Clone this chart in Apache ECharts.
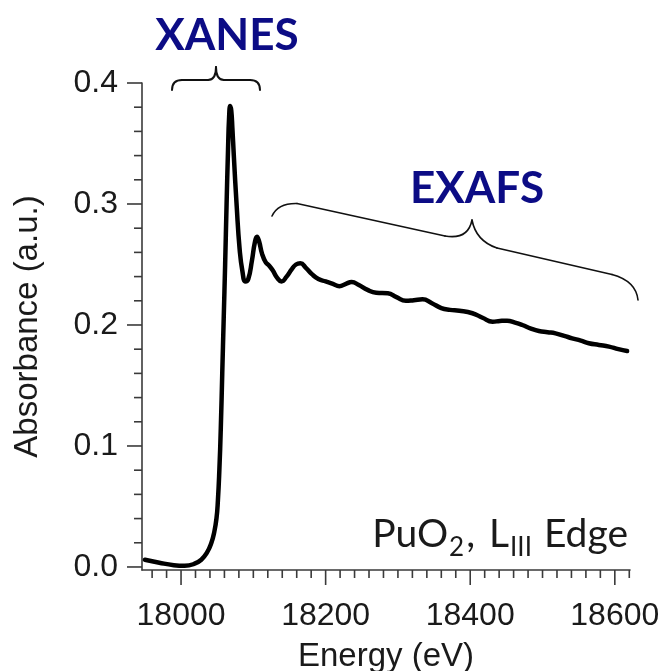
<!DOCTYPE html>
<html>
<head>
<meta charset="utf-8">
<script src="https://cdn.jsdelivr.net/npm/echarts@6/dist/echarts.min.js"></script>
<style>
html,body{margin:0;padding:0;background:#fff;}
#chart{width:662px;height:671px;}
</style>
</head>
<body>
<div id="chart"></div>
<script>
// ---- data ----
var energy = [17950,17970,17990,18005,18018,18028,18036,18042,18046,18049,18051,18053,18055,18057,18059,18061,18063,18065,18066.5,18068,18069.5,18071,18073,18077,18081,18085,18089,18093,18098,18102,18105,18108,18112,18117,18122,18127,18133,18139,18146,18153,18159,18165,18173,18181,18190,18200,18210,18219,18228,18236,18246,18258,18270,18286,18298,18311,18322,18334,18347,18360,18372,18385,18403,18417,18431,18441,18451,18462,18472,18484,18495,18507,18518,18530,18541,18553,18564,18578,18592,18605,18617];
var absorbance = [0.006,0.0035,0.0015,0.001,0.0025,0.006,0.012,0.020,0.029,0.040,0.055,0.080,0.115,0.160,0.205,0.250,0.300,0.345,0.372,0.381,0.377,0.363,0.340,0.298,0.263,0.244,0.236,0.238,0.253,0.268,0.273,0.269,0.259,0.252,0.249,0.245,0.239,0.236,0.240,0.246,0.250,0.251,0.247,0.242,0.238,0.236,0.234,0.232,0.234,0.2355,0.233,0.229,0.2267,0.2262,0.223,0.220,0.2205,0.2212,0.218,0.214,0.2125,0.2118,0.2097,0.206,0.2027,0.2033,0.2036,0.202,0.200,0.197,0.195,0.194,0.1931,0.191,0.189,0.187,0.1849,0.1835,0.1821,0.180,0.1785];
var xRange = [17946, 18621];
var yRange = [-0.0025, 0.4];
var xMajorRange = [18000, 18600];   // labelled ticks every 200 eV
var xMinorRange = [17960, 18620];   // minor ticks every 20 eV
var yMajorRange = [0, 0.4];         // labelled ticks every 0.1, minor every 0.02
var xTitle = 'Energy (eV)';
var yTitle = 'Absorbance (a.u.)';

var seriesData = energy.map(function (e, i) { return [e, absorbance[i]]; });

var axisColor = '#3a3a3a';
var labelFont = {fontFamily: 'Liberation Sans', fontSize: 32, color: '#1a1a1a'};
var navy = '#0c0c85';

// plot geometry (pixels)
var PL = 142, PR = 630, PT = 83, PB = 570;
var H = 671, W = 662;
var pxPerEV = (PR - PL) / (xRange[1] - xRange[0]);
var pxPerY = (PB - PT) / (yRange[1] - yRange[0]);
function xPix(e) { return PL + (e - xRange[0]) * pxPerEV; }
function yPix(v) { return PB - (v - yRange[0]) * pxPerY; }

// brace annotation segments: ['q', x1,y1, cx,cy, x2,y2] or ['l', x1,y1, x2,y2]
function braceElements(segs, width) {
  return segs.map(function (s) {
    if (s[0] === 'q') {
      return {type: 'bezierCurve', shape: {x1: s[1], y1: s[2], cpx1: s[3], cpy1: s[4], x2: s[5], y2: s[6]},
        style: {fill: null, stroke: '#111', lineWidth: width, lineCap: 'round'}};
    }
    return {type: 'line', shape: {x1: s[1], y1: s[2], x2: s[3], y2: s[4]},
      style: {stroke: '#111', lineWidth: width, lineCap: 'round'}};
  });
}
var xanesBrace = braceElements([
  ['q', 172,90, 172,80, 182,80], ['l', 182,80, 208,80], ['q', 208,80, 216,80, 216,67],
  ['q', 216,67, 216,80, 224,80], ['l', 224,80, 250,80], ['q', 250,80, 260,80, 260,90]
], 2);
var exafsBrace = braceElements([
  ['q', 272,216, 278,203, 297,203.5], ['l', 297,203.5, 445,236], ['q', 445,236, 468,240, 472,220],
  ['q', 472,220, 476,241, 497,248], ['l', 497,248, 612,274.5], ['q', 612,274.5, 636,281, 638,300]
], 1.6);

function mkGrid(l, r, t, b) {
  return {left: l, right: W - r, top: t, bottom: H - b, outerBoundsMode: 'none'};
}

var chart = echarts.init(document.getElementById('chart'), null, {renderer: 'canvas'});
var annotations = [
  {type: 'text', x: 227, y: 36, style: {text: 'XANES', fill: navy, font: 'bold 44px Lato', align: 'center', verticalAlign: 'middle'}},
  {type: 'text', x: 477, y: 189, style: {text: 'EXAFS', fill: navy, font: 'bold 44px Lato', align: 'center', verticalAlign: 'middle'}},
  {type: 'text', x: 628, y: 515, style: {
    text: '{a|PuO}{s|2}{a|,}{b|L}{s|III}{a| Edge}', align: 'right', verticalAlign: 'top',
    rich: {
      a: {fontFamily: 'Lato', fontSize: 39, verticalAlign: 'top', fill: '#1a1a1a'},
      b: {fontFamily: 'Lato', fontSize: 39, verticalAlign: 'top', fill: '#1a1a1a', padding: [0, 0, 0, 14]},
      s: {fontFamily: 'Lato', fontSize: 26, lineHeight: 46, verticalAlign: 'bottom', fill: '#1a1a1a', padding: [0, 2, 0, 1]}
    }
  }}
].concat(xanesBrace, exafsBrace);

chart.setOption({
  animation: false,
  backgroundColor: '#fff',
  grid: [
    mkGrid(PL, PR, PT, PB),                                        // 0 main plot
    mkGrid(xPix(xMajorRange[0]), xPix(xMajorRange[1]), PT, PB),    // 1 x labels
    mkGrid(PL, PR, yPix(yMajorRange[1]), yPix(yMajorRange[0]))     // 2 y labels
  ],
  xAxis: [{
    type: 'value', gridIndex: 0, min: xRange[0], max: xRange[1],
    splitLine: {show: false},
    axisLine: {show: true, onZero: false, lineStyle: {color: axisColor, width: 1.6}},
    axisTick: {show: false}, axisLabel: {show: false},
    name: xTitle, nameLocation: 'middle', nameGap: 70,
    nameTextStyle: {fontFamily: 'Liberation Sans', fontSize: 33, color: '#1a1a1a'}
  }, {
    type: 'value', gridIndex: 1, min: xMajorRange[0], max: xMajorRange[1], interval: 200,
    splitLine: {show: false}, axisLine: {show: false}, axisTick: {show: false},
    axisLabel: Object.assign({show: true, margin: 30, formatter: function (v) { return String(v); }}, labelFont)
  }, {type: 'value', gridIndex: 2, show: false}],
  yAxis: [{
    type: 'value', gridIndex: 0, min: yRange[0], max: yRange[1],
    splitLine: {show: false},
    axisLine: {show: true, onZero: false, lineStyle: {color: axisColor, width: 1.6}},
    axisTick: {show: false}, axisLabel: {show: false},
    name: yTitle, nameLocation: 'middle', nameGap: 98, nameRotate: 90,
    nameTextStyle: {fontFamily: 'Liberation Sans', fontSize: 33, color: '#1a1a1a'}
  }, {type: 'value', gridIndex: 1, show: false}, {
    type: 'value', gridIndex: 2, min: yMajorRange[0], max: yMajorRange[1], interval: 0.1,
    splitLine: {show: false}, axisLine: {show: false}, axisTick: {show: false},
    axisLabel: Object.assign({show: true, margin: 24, formatter: function (v) { return v.toFixed(1); }}, labelFont)
  }],
  series: [{
    type: 'line', xAxisIndex: 0, yAxisIndex: 0,
    data: seriesData,
    showSymbol: false, symbol: 'none',
    smooth: 0.5,
    lineStyle: {color: '#000', width: 4.5, cap: 'round', join: 'round'}
  }],
  graphic: annotations
});

// tick marks placed through the main axes' scales (major 200 eV / 0.1, minor 20 eV / 0.02)
function toPixel(v, isX) {
  var r = null;
  try {
    r = chart.convertToPixel(isX ? {xAxisIndex: 0} : {yAxisIndex: 0}, v);
    if (Array.isArray(r)) r = isX ? r[0] : r[1];
  } catch (err) { r = null; }
  if (typeof r !== 'number' || !isFinite(r)) r = isX ? xPix(v) : yPix(v);
  return r;
}
var ticks = [];
function addTick(v, isX, len) {
  if (isX) {
    var x = toPixel(v, true);
    ticks.push({type: 'line', shape: {x1: x, y1: PB, x2: x, y2: PB + len}, style: {stroke: axisColor, lineWidth: 1.6}});
  } else {
    var y = toPixel(v, false);
    ticks.push({type: 'line', shape: {x1: PL, y1: y, x2: PL - len, y2: y}, style: {stroke: axisColor, lineWidth: 1.6}});
  }
}
for (var e = xMinorRange[0]; e <= xMinorRange[1]; e += 20) addTick(e, true, e % 200 === 0 ? 15 : 8);
for (var k = 0; k <= 20; k++) addTick(Math.round(k * 2) / 100, false, k % 5 === 0 ? 15 : 8);
chart.setOption({graphic: annotations.concat(ticks)});
</script>
</body>
</html>
